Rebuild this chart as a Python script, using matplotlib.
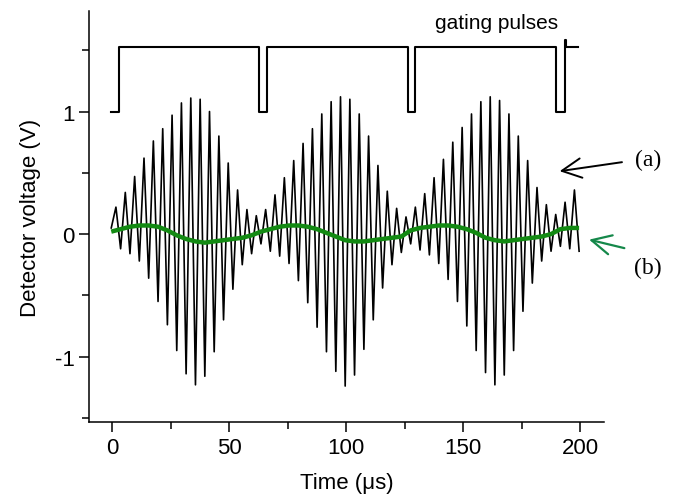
import numpy as np
import matplotlib
matplotlib.use("Agg")
import matplotlib.pyplot as plt
from matplotlib.ticker import MultipleLocator

plt.rcParams['font.family'] = ['Liberation Sans', 'DejaVu Sans']
plt.rcParams['axes.unicode_minus'] = False

# detector signal (a): alternating extrema, one every 2 us
sig_v = [
    0.05, 0.22, -0.12, 0.34, -0.16, 0.47, -0.22, 0.62, -0.36, 0.76, -0.55,
    0.86, -0.74, 0.97, -0.95, 1.07, -1.14, 1.11, -1.23, 1.10, -1.16, 1.00,
    -0.96, 0.80, -0.70, 0.58, -0.45, 0.36, -0.25, 0.20, -0.16, 0.15,
    -0.08, 0.20, -0.14, 0.32, -0.18, 0.46, -0.24, 0.60, -0.38, 0.74, -0.56,
    0.86, -0.76, 0.98, -0.96, 1.08, -1.12, 1.12, -1.24, 1.10, -1.15, 0.98,
    -0.94, 0.80, -0.70, 0.56, -0.44, 0.35, -0.25, 0.21, -0.15, 0.14,
    -0.08, 0.22, -0.13, 0.33, -0.17, 0.46, -0.24, 0.61, -0.37, 0.75, -0.55,
    0.87, -0.75, 0.98, -0.95, 1.08, -1.13, 1.12, -1.23, 1.09, -1.15, 0.98,
    -0.95, 0.80, -0.63, 0.60, -0.40, 0.38, -0.22, 0.24, -0.14, 0.16,
    -0.10, 0.26, -0.12, 0.36, -0.14,
]
sig_t = 2.0 * np.arange(len(sig_v)) - 0.5

# slow drift of the same detector (b), every 4 us
drift_v = [
    0.02, 0.04, 0.06, 0.07, 0.07, 0.06, 0.03, -0.01, -0.04, -0.06, -0.07,
    -0.06, -0.05, -0.04, -0.03, -0.01,
    0.02, 0.04, 0.06, 0.07, 0.07, 0.06, 0.04, 0.01, -0.02, -0.05, -0.06,
    -0.06, -0.05, -0.04, -0.03, -0.02,
    0.03, 0.05, 0.06, 0.07, 0.07, 0.06, 0.04, 0.01, -0.03, -0.05, -0.06,
    -0.05, -0.04, -0.03, -0.02, 0.00,
    0.04, 0.05, 0.05,
]
drift_t = 4.0 * np.arange(len(drift_v)) - 0.5

# gating pulse trace (offset display levels)
gate_t = [-0.5, 3.0, 3.0, 62.5, 62.5, 66.0, 66.0, 126.5, 126.5, 129.5, 129.5,
          189.5, 189.5, 193.5, 193.5, 194.0, 194.0, 199.0]
gate_v = [1.0, 1.0, 1.53, 1.53, 1.0, 1.0, 1.53, 1.53, 1.0, 1.0, 1.53,
          1.53, 1.0, 1.0, 1.58, 1.58, 1.53, 1.53]

fig = plt.figure(figsize=(6.76, 5.02), dpi=100)
ax = fig.add_axes([0.1317, 0.157, 0.7613, 0.819])

ax.plot(sig_t, sig_v, color='black', lw=1.2)
ax.plot(drift_t, drift_v, color='#138a13', lw=3.2, solid_capstyle='butt')
ax.plot(gate_t, gate_v, color='black', lw=1.5)

ax.set_xlim(-10, 210)
ax.set_ylim(-1.535, 1.82)
ax.xaxis.set_major_locator(MultipleLocator(50))
ax.xaxis.set_minor_locator(MultipleLocator(25))
ax.yaxis.set_major_locator(MultipleLocator(1))
ax.yaxis.set_minor_locator(MultipleLocator(0.5))
ax.tick_params(which='major', direction='out', length=7, width=1.1, labelsize=16)
ax.tick_params(which='minor', direction='out', length=5, width=1.1)
for side in ['top', 'right']:
    ax.spines[side].set_visible(False)
for side in ['left', 'bottom']:
    ax.spines[side].set_linewidth(1.1)

ax.set_xlabel('Time (\u03bcs)', fontsize=16, labelpad=10)
ax.set_ylabel('Detector voltage (V)', fontsize=16, labelpad=10)

ax.text(190.5, 1.73, 'gating pulses', fontsize=15, ha='right', va='center')

ax.annotate('', xy=(190, 0.51), xytext=(219, 0.59),
            arrowprops=dict(arrowstyle='->,head_length=0.7,head_width=0.35',
                            color='black', lw=1.4, mutation_scale=20),
            annotation_clip=False)
ax.annotate('', xy=(202.6, -0.04), xytext=(220, -0.12),
            arrowprops=dict(arrowstyle='->,head_length=0.7,head_width=0.35',
                            color='#15884a', lw=1.6, mutation_scale=20),
            annotation_clip=False)
ax.text(229, 0.61, '(a)', fontsize=17, family='Liberation Serif',
        ha='center', va='center', clip_on=False)
ax.text(229, -0.27, '(b)', fontsize=17, family='Liberation Serif',
        ha='center', va='center', clip_on=False)

fig.savefig('out.png', dpi=100)
